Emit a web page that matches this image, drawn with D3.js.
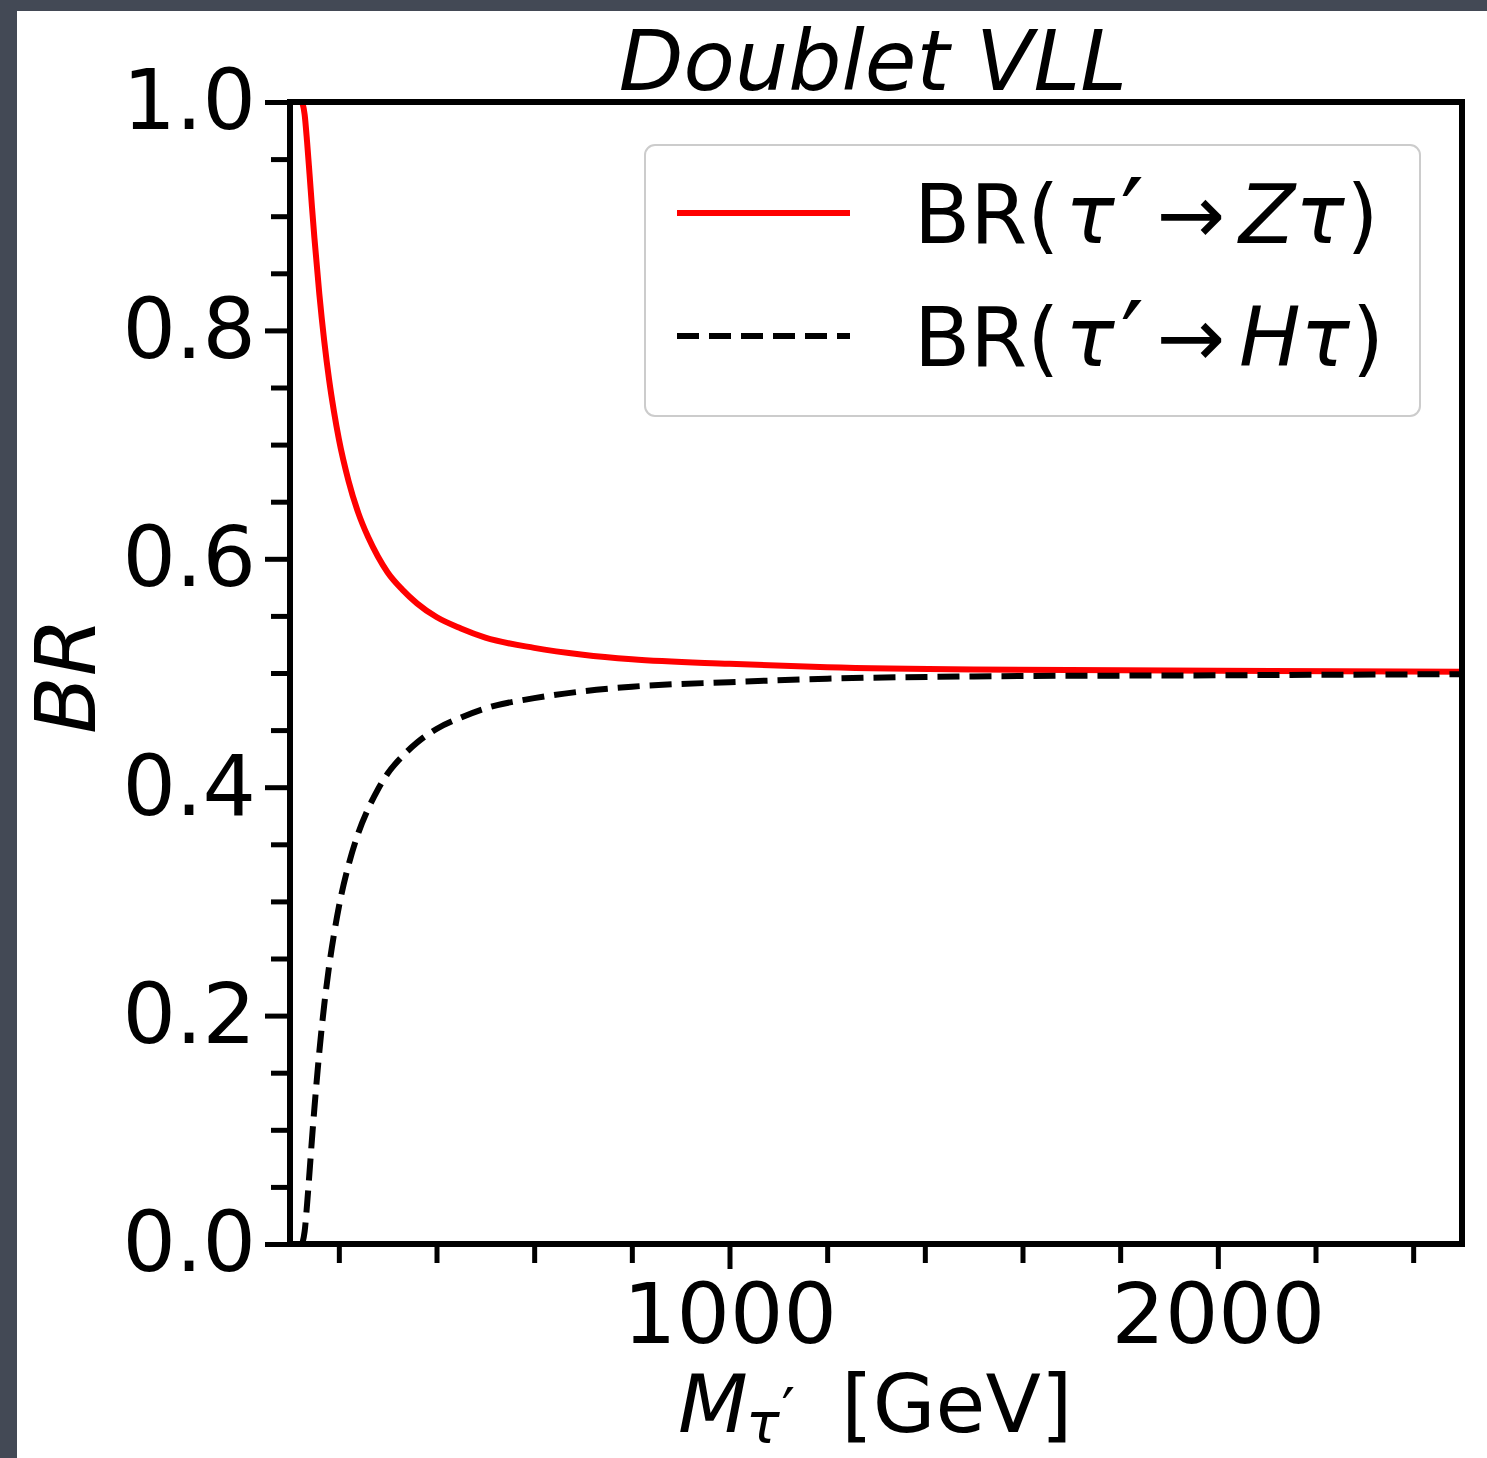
<!DOCTYPE html>
<html>
<head>
<meta charset="utf-8">
<script src="https://cdn.jsdelivr.net/npm/d3@7"></script>
<style>
  html, body { margin: 0; padding: 0; background: #424854; }
  svg { display: block; }
  text { font-family: "DejaVu Sans", sans-serif; fill: #000; }
</style>
</head>
<body>
<svg id="chart" width="1487" height="1458"></svg>
<script>
// Branching ratios of the doublet vector-like tau partner vs. its mass
const massGeV = [125, 130, 135, 140, 145, 150, 160, 170, 180, 190, 200, 220, 240, 260, 280, 300, 330, 360, 400, 450, 500, 600, 700, 800, 1000, 1200, 1500, 2000, 2500];
const brZtau  = [1.000, 0.989, 0.965, 0.937, 0.908, 0.881, 0.832, 0.791, 0.757, 0.729, 0.705, 0.668, 0.640, 0.619, 0.602, 0.588, 0.573, 0.561, 0.549, 0.539, 0.531, 0.522, 0.516, 0.512, 0.508, 0.505, 0.503, 0.502, 0.501];
const brHtau  = [0.000, 0.011, 0.035, 0.063, 0.092, 0.119, 0.168, 0.209, 0.243, 0.271, 0.295, 0.332, 0.360, 0.381, 0.398, 0.412, 0.427, 0.439, 0.451, 0.461, 0.469, 0.478, 0.484, 0.488, 0.492, 0.495, 0.497, 0.498, 0.499];

const xDomain = [100, 2500];
const yDomain = [0, 1];
const xMajorTicks = [1000, 2000];
const xMinorTicks = [200, 400, 600, 800, 1200, 1400, 1600, 1800, 2200, 2400];
const yMajorTicks = [0.0, 0.2, 0.4, 0.6, 0.8, 1.0];
const yMinorTicks = [0.05, 0.1, 0.15, 0.25, 0.3, 0.35, 0.45, 0.5, 0.55, 0.65, 0.7, 0.75, 0.85, 0.9, 0.95];

const titleText = "Doublet VLL";
const yLabelText = "BR";
const legendTargets = ["Z", "H"];

const svg = d3.select("#chart");
const W = 1487, H = 1458;

// slide background and white figure canvas
svg.append("rect").attr("width", W).attr("height", H).attr("fill", "#434955");
svg.append("rect").attr("x", 17).attr("y", 11).attr("width", W - 17).attr("height", H - 11).attr("fill", "#ffffff");

const plot = { left: 290, right: 1462, top: 102, bottom: 1244 };

const x = d3.scaleLinear().domain(xDomain).range([plot.left, plot.right]);
const y = d3.scaleLinear().domain(yDomain).range([plot.bottom, plot.top]);

svg.append("defs").append("clipPath").attr("id", "plotClip")
  .append("rect")
  .attr("x", plot.left).attr("y", plot.top)
  .attr("width", plot.right - plot.left).attr("height", plot.bottom - plot.top);

// curves
const line = d3.line().x(d => x(d[0])).y(d => y(d[1])).curve(d3.curveMonotoneX);
const zData = massGeV.map((m, i) => [m, brZtau[i]]);
const hData = massGeV.map((m, i) => [m, brHtau[i]]);

const curves = svg.append("g").attr("clip-path", "url(#plotClip)");
curves.append("path").datum(zData).attr("d", line)
  .attr("fill", "none").attr("stroke", "#ff0000").attr("stroke-width", 6);
curves.append("path").datum(hData).attr("d", line)
  .attr("fill", "none").attr("stroke", "#000").attr("stroke-width", 6)
  .attr("stroke-dasharray", "22,10");

// axes
const fmt = d3.format(".1f");
const yAxisMajor = d3.axisLeft(y).tickValues(yMajorTicks).tickSize(25).tickPadding(9).tickFormat(fmt);
const yAxisMinor = d3.axisLeft(y).tickValues(yMinorTicks).tickSize(19).tickFormat("");
const xAxisMajor = d3.axisBottom(x).tickValues(xMajorTicks).tickSize(25).tickPadding(14).tickFormat(d3.format("d"));
const xAxisMinor = d3.axisBottom(x).tickValues(xMinorTicks).tickSize(19).tickFormat("");

function styleAxis(g) {
  g.select(".domain").remove();
  g.selectAll(".tick line").attr("stroke", "#000").attr("stroke-width", 5);
  g.selectAll(".tick text").attr("font-family", "DejaVu Sans").attr("font-size", 84).attr("fill", "#000");
}

svg.append("g").attr("transform", `translate(${plot.left},0)`).call(yAxisMinor).call(styleAxis);
svg.append("g").attr("transform", `translate(${plot.left},0)`).call(yAxisMajor).call(styleAxis);
svg.append("g").attr("transform", `translate(0,${plot.bottom})`).call(xAxisMinor).call(styleAxis);
const xg = svg.append("g").attr("transform", `translate(0,${plot.bottom})`).call(xAxisMajor).call(styleAxis);
xg.selectAll(".tick text").attr("dy", "0.71em");

// frame
svg.append("rect")
  .attr("x", plot.left).attr("y", plot.top)
  .attr("width", plot.right - plot.left).attr("height", plot.bottom - plot.top)
  .attr("fill", "none").attr("stroke", "#000").attr("stroke-width", 6);

const cx = (plot.left + plot.right) / 2;

// title
svg.append("text").attr("x", cx - 3).attr("y", 90)
  .attr("text-anchor", "middle").attr("font-size", 84).attr("font-style", "italic")
  .text(titleText);

// y label
svg.append("text")
  .attr("transform", `translate(95,${(plot.top + plot.bottom) / 2 + 3}) rotate(-90)`)
  .attr("text-anchor", "middle").attr("font-size", 84).attr("font-style", "italic")
  .text(yLabelText);

// x label: M_{tau'} [GeV]
const xl = svg.append("text").attr("x", 678).attr("y", 1432)
  .attr("text-anchor", "start").attr("font-size", 81);
xl.append("tspan").attr("font-style", "italic").text("M");
xl.append("tspan").attr("font-style", "italic").attr("font-size", 56).attr("dy", 11).attr("dx", -2).text("τ");
xl.append("tspan").attr("font-size", 60).attr("dy", -12).attr("dx", 2).text("′");
xl.append("tspan").attr("dy", 1).attr("dx", 46).text("[GeV]");

// legend
const legend = svg.append("g");
legend.append("rect")
  .attr("x", 645).attr("y", 145).attr("width", 775).attr("height", 271)
  .attr("rx", 10).attr("ry", 10)
  .attr("fill", "#ffffff").attr("fill-opacity", 0.8)
  .attr("stroke", "#cccccc").attr("stroke-width", 2);

const legendStyles = [
  { color: "#ff0000", dash: null, y: 213 },
  { color: "#000000", dash: "22,10", y: 336 }
];

legendTargets.forEach((target, i) => {
  const s = legendStyles[i];
  legend.append("line")
    .attr("x1", 677).attr("x2", 850).attr("y1", s.y).attr("y2", s.y)
    .attr("stroke", s.color).attr("stroke-width", 6)
    .attr("stroke-dasharray", s.dash);
  const t = legend.append("text").attr("x", 914).attr("y", s.y + 30).attr("font-size", 82);
  t.append("tspan").text("BR(");
  t.append("tspan").attr("dx", 6).attr("font-style", "italic").text("τ");
  t.append("tspan").attr("font-size", 104).attr("dy", 10).attr("dx", 6).text("′");
  t.append("tspan").attr("dy", -10).attr("dx", 12).text("→");
  t.append("tspan").attr("dx", 14).attr("font-style", "italic").text(target + "τ");
  t.append("tspan").attr("dx", 2).text(")");
});
</script>
</body>
</html>
